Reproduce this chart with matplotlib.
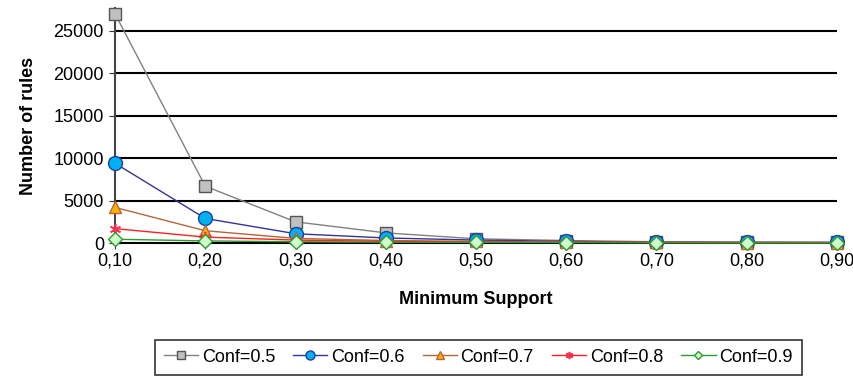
import numpy as np
from matplotlib import pyplot as plt

plt.rcParams['font.family'] = ['Liberation Sans', 'DejaVu Sans']

support = [0.10, 0.20, 0.30, 0.40, 0.50, 0.60, 0.70, 0.80, 0.90]
support_labels = ['0,10', '0,20', '0,30', '0,40', '0,50', '0,60', '0,70', '0,80', '0,90']

conf05 = [27000, 6700, 2500, 1200, 500, 300, 150, 100, 100]
conf06 = [9400, 2900, 1100, 600, 350, 200, 100, 80, 70]
conf07 = [4200, 1450, 550, 300, 200, 120, 80, 60, 50]
conf08 = [1700, 700, 350, 200, 130, 90, 60, 50, 40]
conf09 = [450, 250, 150, 100, 80, 60, 40, 30, 30]

yticks = [0, 5000, 10000, 15000, 20000, 25000]

fig = plt.figure(figsize=(8.54, 3.78), dpi=100)
ax = fig.add_axes([0.1347, 0.357, 0.8453, 0.622])

ax.plot(support, conf05, color='#808080', lw=1, marker='s', ms=9,
        mfc='#c0c0c0', mec='#555555', mew=1, label='Conf=0.5', clip_on=False, zorder=3)
ax.plot(support, conf06, color='#333399', lw=1, marker='o', ms=10,
        mfc='#00b0f0', mec='#1f3fa0', mew=1, label='Conf=0.6', clip_on=False, zorder=4)
ax.plot(support, conf07, color='#b5653a', lw=1, marker='^', ms=9,
        mfc='#ffb000', mec='#b5653a', mew=1, label='Conf=0.7', clip_on=False, zorder=5)
ax.plot(support, conf08, color='#ff2020', lw=1, marker=(6, 2, 0), ms=8,
        mfc='#ff4060', mec='#ff3050', mew=1.2, label='Conf=0.8', clip_on=False, zorder=6)
ax.plot(support, conf09, color='#2e9a2e', lw=1, marker='D', ms=7,
        mfc='#ccffcc', mec='#2e9a2e', mew=1, label='Conf=0.9', clip_on=False, zorder=7)

ax.set_xlim(0.1, 0.9)
ax.set_ylim(0, 27700)
ax.set_xticks(support)
ax.set_xticklabels(support_labels)
ax.set_yticks(yticks)
ax.set_yticklabels([str(v) for v in yticks])
ax.tick_params(axis='both', labelsize=13, length=4, color='#333333')
ax.tick_params(axis='x', pad=3)
ax.tick_params(axis='y', pad=4)

for v in yticks[1:]:
    ax.axhline(v, color='black', lw=1.5, zorder=1)

for s in ['top', 'right']:
    ax.spines[s].set_visible(False)
ax.spines['left'].set_color('#444444')
ax.spines['left'].set_linewidth(1.5)
ax.spines['bottom'].set_color('black')
ax.spines['bottom'].set_linewidth(1.5)

ax.set_xlabel('Minimum Support', fontsize=13, fontweight='bold', labelpad=15)
ax.set_ylabel('Number of rules', fontsize=13, fontweight='bold', labelpad=12)

leg = fig.legend(loc='center', bbox_to_anchor=(0.560, 0.055), ncol=5,
                 fontsize=13, frameon=True, fancybox=False, handlelength=1.9,
                 handletextpad=0.2, columnspacing=1.0, borderpad=0.5,
                 markerscale=0.65)
leg.get_frame().set_edgecolor('black')
leg.get_frame().set_linewidth(1.2)

fig.savefig('out.png', dpi=100)
